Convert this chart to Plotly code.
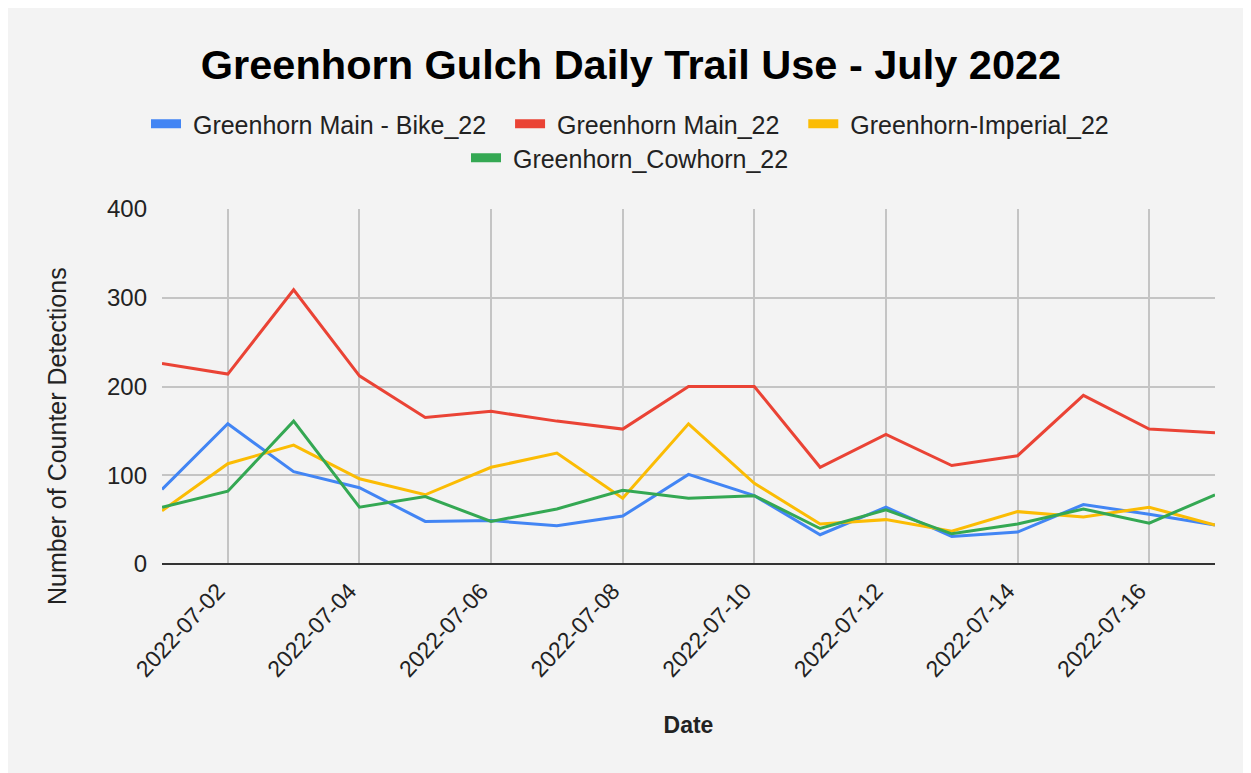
import plotly.graph_objects as go

dates = ["2022-07-%02d" % d for d in range(1, 18)]

bike = [84, 158, 104, 86, 48, 49, 43, 54, 101, 77, 33, 64, 31, 36, 67, 56, 44]
main = [226, 214, 309, 212, 165, 172, 161, 152, 200, 200, 109, 146, 111, 122, 190, 152, 148]
imperial = [60, 113, 134, 96, 78, 109, 125, 74, 158, 91, 45, 50, 37, 59, 53, 64, 44]
cowhorn = [64, 82, 161, 64, 76, 48, 62, 83, 74, 77, 40, 61, 34, 45, 62, 46, 78]

names = ["Greenhorn Main - Bike_22", "Greenhorn Main_22", "Greenhorn-Imperial_22", "Greenhorn_Cowhorn_22"]
colors = ["#4285F4", "#EA4335", "#FBBC04", "#34A853"]
series = [bike, main, imperial, cowhorn]

LEAD = "\u00a0"
PAD = "\u00a0\u00a0\u2009"

fig = go.Figure()
for name, col, vals in zip(names, colors, series):
    fig.add_trace(go.Scatter(x=dates, y=vals, mode="lines", name=name,
                             line=dict(color=col, width=3), showlegend=False))
for i, (name, col) in enumerate(zip(names, colors)):
    fig.add_trace(go.Scatter(x=[None], y=[None], mode="lines",
                             name=LEAD + name + (PAD if i < 2 else ""),
                             line=dict(color=col, width=9),
                             legend="legend" if i < 3 else "legend2"))

font_family = "Liberation Sans, Arial, sans-serif"

# page body has an 8px margin; figure is sized/offset to compensate
W, H = 1243, 765
L, T, R, B = 154, 201, 36, 209
PW = W - L - R
PH = H - T - B


def px_x(x):
    return (x - 8 - L) / PW


def px_y(y):
    return (H - B - (y - 8)) / PH


fig.update_layout(
    width=W, height=H,
    margin=dict(l=L, r=R, t=T, b=B),
    paper_bgcolor="#f3f3f3",
    plot_bgcolor="rgba(0,0,0,0)",
    font=dict(family=font_family, color="#222222", size=24),
    title=dict(text="<b>Greenhorn Gulch Daily Trail Use - July 2022</b>",
               x=(631 - 8) / W, xref="container", xanchor="center",
               y=1 - (64 - 8) / H, yref="container", yanchor="middle",
               font=dict(size=41.5, color="#000000", family=font_family)),
    legend=dict(orientation="h", x=px_x(630), xanchor="center", y=px_y(124), yanchor="middle",
                bgcolor="rgba(0,0,0,0)", font=dict(size=25, color="#222222")),
    legend2=dict(orientation="h", x=px_x(630), xanchor="center", y=px_y(158), yanchor="middle",
                 bgcolor="rgba(0,0,0,0)", font=dict(size=25, color="#222222")),
    annotations=[dict(text="Number of Counter Detections", textangle=-90,
                      xref="paper", yref="paper", x=px_x(57), y=px_y(436),
                      xanchor="center", yanchor="middle", showarrow=False,
                      font=dict(size=25, color="#222222"))],
)

fig.update_xaxes(
    range=["2022-07-01", "2022-07-17"],
    tickmode="array",
    tickvals=dates[1::2],
    ticktext=dates[1::2],
    tickangle=-47,
    showgrid=True, gridcolor="#c4c4c4", gridwidth=1.5,
    zeroline=False, showline=False, ticks="",
    ticklabelstandoff=8, ticklabelshift=-10,
    tickfont=dict(size=23, color="#222222"),
    title=dict(text="<b>Date</b>", font=dict(size=23, color="#222222"), standoff=36),
)
fig.update_yaxes(
    range=[0, 400],
    tickvals=[0, 100, 200, 300, 400],
    showgrid=True, gridcolor="#c4c4c4", gridwidth=1.5,
    zeroline=True, zerolinecolor="#333333", zerolinewidth=2,
    showline=False, ticks="",
    ticklabelstandoff=14,
    tickfont=dict(size=24, color="#222222"),
)

fig.write_html("out.html")
